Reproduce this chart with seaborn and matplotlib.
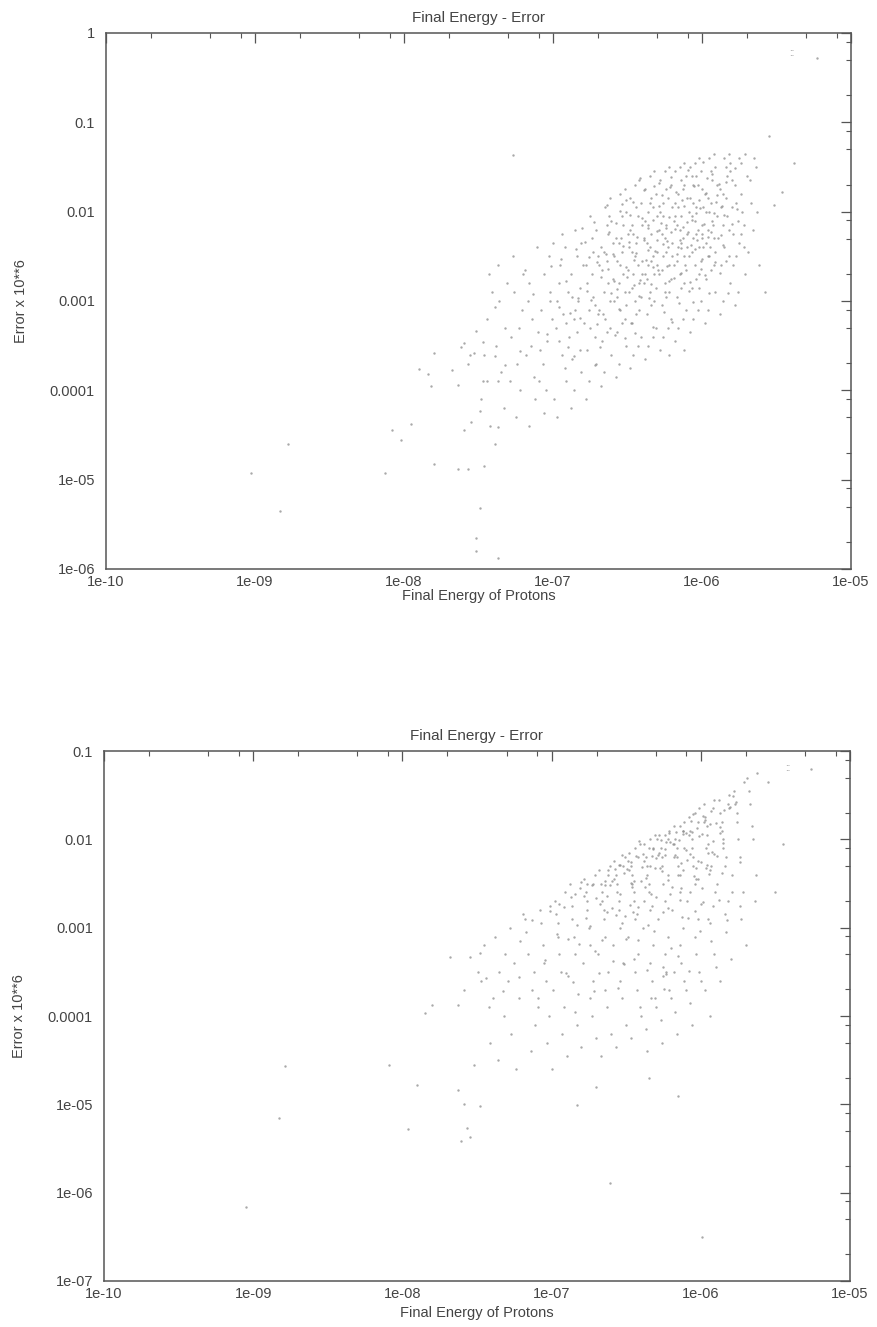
import numpy as np
import matplotlib
matplotlib.use("Agg")
import matplotlib.pyplot as plt
import seaborn as sns
from matplotlib.ticker import FixedLocator, FixedFormatter, LogLocator, NullFormatter

# ---------------- data (as log10 values) ----------------
TITLE = "Final Energy - Error"
XLABEL = "Final Energy of Protons"
YLABEL = "Error x 10**6"

x_tick_values = [1e-10, 1e-09, 1e-08, 1e-07, 1e-06, 1e-05]
x_tick_labels = ["1e-10", "1e-09", "1e-08", "1e-07", "1e-06", "1e-05"]
top_y_tick_values = [1e-06, 1e-05, 1e-04, 1e-03, 1e-02, 1e-01, 1]
top_y_tick_labels = ["1e-06", "1e-05", "0.0001", "0.001", "0.01", "0.1", "1"]
bot_y_tick_values = [1e-07, 1e-06, 1e-05, 1e-04, 1e-03, 1e-02, 1e-01]
bot_y_tick_labels = ["1e-07", "1e-06", "1e-05", "0.0001", "0.001", "0.01", "0.1"]

# top panel: (log10 energy, log10 error)
top_points = [
    (-8.78,-4.60),(-9.03,-4.93),(-8.83,-5.35),(-8.13,-4.92),(-8.08,-4.44),(-8.02,-4.56),(-7.95,-4.38),
    (-7.90,-3.76),(-7.84,-3.82),(-7.82,-3.95),(-7.80,-3.58),(-7.68,-3.77),(-7.64,-3.94),(-7.62,-3.52),
    (-7.60,-3.47),(-7.56,-3.60),(-7.53,-3.58),(-7.57,-3.70),(-7.52,-3.34),(-7.47,-3.46),(-7.39,-3.62),
    (-7.44,-3.90),(-7.37,-3.89),(-7.49,-4.23),(-7.55,-4.36),(-7.60,-4.44),(-7.37,-4.41),(-7.64,-4.88),
    (-7.57,-4.88),(-7.46,-4.85),(-7.49,-5.32),(-7.52,-5.65),(-7.80,-4.82),(-7.37,-5.88),(-7.39,-3.07),
    (-7.52,-5.80),
    (-7.47,-3.9),(-7.44,-3.2),(-7.42,-4.4),(-7.41,-2.9),(-7.46,-3.6),(-7.43,-2.7),(-7.48,-4.1),
    (-7.38,-3.5),(-7.36,-3.0),(-7.33,-4.2),(-7.31,-2.8),(-7.35,-3.8),(-7.37,-2.6),(-7.32,-3.3),(-7.39,-4.6),
    (-7.28,-3.4),(-7.26,-2.9),(-7.24,-3.7),(-7.22,-4.0),(-7.27,-2.5),(-7.21,-3.1),(-7.25,-4.3),(-7.23,-3.3),
    (-7.29,-3.9),(-7.20,-2.7),
    (-7.18,-3.6),(-7.16,-2.8),(-7.14,-3.2),(-7.12,-4.1),(-7.17,-3.0),(-7.11,-2.4),(-7.15,-3.5),(-7.13,-3.85),
    (-7.19,-2.65),(-7.10,-3.35),(-7.16,-4.4),
    (-7.08,-3.1),(-7.06,-2.7),(-7.04,-3.45),(-7.02,-2.9),(-7.07,-3.7),(-7.01,-3.2),(-7.05,-4.0),(-7.03,-2.5),
    (-7.09,-3.55),(-7.00,-2.35),(-7.06,-4.25),(-7.02,-3.0),
    (-6.98,-3.3),(-6.96,-2.8),(-6.94,-3.6),(-6.92,-2.4),(-6.97,-3.0),(-6.91,-3.9),(-6.95,-2.6),(-6.93,-3.15),
    (-6.99,-4.1),(-6.90,-2.9),(-6.96,-3.45),(-6.94,-2.25),(-6.92,-3.75),(-6.97,-4.3),(-6.91,-3.25),
    (-6.88,-2.7),(-6.86,-3.2),(-6.84,-2.5),(-6.82,-3.55),(-6.87,-2.95),(-6.81,-3.8),(-6.85,-2.2),(-6.83,-3.0),
    (-6.89,-3.4),(-6.80,-2.6),(-6.86,-4.0),(-6.84,-3.35),(-6.82,-2.85),(-6.87,-3.65),(-6.81,-2.35),(-6.88,-4.2),
    (-6.85,-3.1),
    (-6.78,-2.6),(-6.76,-3.1),(-6.74,-2.3),(-6.72,-3.4),(-6.77,-2.8),(-6.71,-3.7),(-6.75,-2.05),(-6.73,-2.95),
    (-6.79,-3.25),(-6.70,-2.5),(-6.76,-3.9),(-6.74,-2.7),(-6.72,-3.05),(-6.77,-3.55),(-6.71,-2.2),(-6.78,-4.1),
    (-6.75,-3.3),(-6.73,-2.45),(-6.70,-3.15),
    (-6.68,-2.4),(-6.66,-2.9),(-6.64,-2.15),(-6.62,-3.3),(-6.67,-2.65),(-6.61,-3.6),(-6.65,-1.95),(-6.63,-2.8),
    (-6.69,-3.1),(-6.60,-2.35),(-6.66,-3.8),(-6.64,-2.55),(-6.62,-3.0),(-6.67,-3.45),(-6.61,-2.1),(-6.68,-3.95),
    (-6.65,-3.2),(-6.63,-2.25),(-6.60,-2.75),(-6.66,-2.45),(-6.64,-3.35),(-6.62,-1.85),(-6.69,-2.6),
    (-6.58,-2.3),(-6.56,-2.8),(-6.54,-2.05),(-6.52,-3.2),(-6.57,-2.55),(-6.51,-3.5),(-6.55,-1.8),(-6.53,-2.7),
    (-6.59,-3.0),(-6.50,-2.25),(-6.56,-3.7),(-6.54,-2.45),(-6.52,-2.9),(-6.57,-3.35),(-6.51,-2.0),(-6.58,-3.85),
    (-6.55,-3.1),(-6.53,-2.15),(-6.50,-2.65),(-6.56,-2.35),(-6.54,-3.25),(-6.52,-1.75),(-6.59,-2.5),(-6.57,-2.95),
    (-6.51,-3.05),(-6.55,-2.6),
    (-6.48,-2.2),(-6.46,-2.7),(-6.44,-1.95),(-6.42,-3.1),(-6.47,-2.45),(-6.41,-3.4),(-6.45,-1.7),(-6.43,-2.6),
    (-6.49,-2.9),(-6.40,-2.15),(-6.46,-3.6),(-6.44,-2.35),(-6.42,-2.8),(-6.47,-3.25),(-6.41,-1.9),(-6.48,-3.75),
    (-6.45,-3.0),(-6.43,-2.05),(-6.40,-2.55),(-6.46,-2.25),(-6.44,-3.15),(-6.42,-1.65),(-6.49,-2.4),(-6.47,-2.85),
    (-6.41,-2.95),(-6.45,-2.5),(-6.43,-3.5),(-6.48,-1.85),(-6.40,-2.7),
    (-6.38,-2.1),(-6.36,-2.6),(-6.34,-1.85),(-6.32,-3.0),(-6.37,-2.35),(-6.31,-3.3),(-6.35,-1.6),(-6.33,-2.5),
    (-6.39,-2.8),(-6.30,-2.05),(-6.36,-3.5),(-6.34,-2.25),(-6.32,-2.7),(-6.37,-3.15),(-6.31,-1.8),(-6.38,-3.65),
    (-6.35,-2.9),(-6.33,-1.95),(-6.30,-2.45),(-6.36,-2.15),(-6.34,-3.05),(-6.32,-1.55),(-6.39,-2.3),(-6.37,-2.75),
    (-6.31,-2.85),(-6.35,-2.4),(-6.33,-3.4),(-6.38,-1.75),(-6.30,-2.6),(-6.36,-2.0),(-6.34,-2.55),
    (-6.28,-2.0),(-6.26,-2.5),(-6.24,-1.75),(-6.22,-2.9),(-6.27,-2.25),(-6.21,-3.2),(-6.25,-1.55),(-6.23,-2.4),
    (-6.29,-2.7),(-6.20,-1.95),(-6.26,-3.4),(-6.24,-2.15),(-6.22,-2.6),(-6.27,-3.05),(-6.21,-1.7),(-6.28,-3.55),
    (-6.25,-2.8),(-6.23,-1.85),(-6.20,-2.35),(-6.26,-2.05),(-6.24,-2.95),(-6.22,-1.5),(-6.29,-2.2),(-6.27,-2.65),
    (-6.21,-2.75),(-6.25,-2.3),(-6.23,-3.3),(-6.28,-1.65),(-6.20,-2.5),(-6.26,-1.9),(-6.24,-2.45),(-6.22,-3.6),
    (-6.18,-1.9),(-6.16,-2.4),(-6.14,-1.65),(-6.12,-2.8),(-6.17,-2.15),(-6.11,-3.1),(-6.15,-1.5),(-6.13,-2.3),
    (-6.19,-2.6),(-6.10,-1.85),(-6.16,-3.3),(-6.14,-2.05),(-6.12,-2.5),(-6.17,-2.95),(-6.11,-1.6),(-6.18,-3.45),
    (-6.15,-2.7),(-6.13,-1.75),(-6.10,-2.25),(-6.16,-1.95),(-6.14,-2.85),(-6.12,-1.45),(-6.19,-2.1),(-6.17,-2.55),
    (-6.11,-2.65),(-6.15,-2.2),(-6.13,-3.2),(-6.18,-1.55),(-6.10,-2.4),(-6.16,-1.8),(-6.14,-2.35),(-6.12,-3.55),
    (-6.08,-1.85),(-6.06,-2.3),(-6.04,-1.6),(-6.02,-2.7),(-6.07,-2.05),(-6.01,-3.0),(-6.05,-1.45),(-6.03,-2.2),
    (-6.09,-2.5),(-6.00,-1.75),(-6.06,-3.2),(-6.04,-1.95),(-6.02,-2.4),(-6.07,-2.85),(-6.01,-1.55),(-6.08,-3.35),
    (-6.05,-2.6),(-6.03,-1.7),(-6.00,-2.15),(-6.06,-1.9),(-6.04,-2.75),(-6.02,-1.4),(-6.09,-2.0),(-6.07,-2.45),
    (-6.01,-2.55),(-6.05,-2.1),(-6.03,-3.1),(-6.08,-1.5),(-6.00,-2.3),(-6.06,-1.7),(-6.04,-2.25),
    (-5.98,-1.8),(-5.96,-2.2),(-5.94,-1.55),(-5.92,-2.6),(-5.97,-2.0),(-5.91,-2.9),(-5.95,-1.4),(-5.93,-2.1),
    (-5.99,-2.4),(-5.90,-1.7),(-5.96,-3.1),(-5.94,-1.9),(-5.92,-2.3),(-5.97,-2.75),(-5.91,-1.5),(-5.98,-3.25),
    (-5.95,-2.5),(-5.93,-1.65),(-5.90,-2.05),(-5.96,-1.85),(-5.94,-2.65),(-5.92,-1.35),(-5.99,-1.95),(-5.97,-2.35),
    (-5.91,-2.45),(-5.95,-2.0),
    (-5.88,-1.75),(-5.86,-2.15),(-5.84,-1.5),(-5.82,-2.5),(-5.87,-1.95),(-5.81,-2.8),(-5.85,-1.4),(-5.83,-2.05),
    (-5.89,-2.3),(-5.80,-1.65),(-5.86,-3.0),(-5.84,-1.85),(-5.82,-2.2),(-5.87,-2.6),(-5.81,-1.45),(-5.88,-3.15),
    (-5.85,-2.4),(-5.83,-1.6),(-5.80,-1.95),(-5.86,-1.8),(-5.84,-2.55),(-5.82,-1.35),
    (-5.78,-1.7),(-5.76,-2.1),(-5.74,-1.45),(-5.72,-2.4),(-5.77,-1.9),(-5.71,-2.7),(-5.75,-1.4),(-5.73,-2.0),
    (-5.79,-2.25),(-5.70,-1.6),(-5.76,-2.9),(-5.74,-1.8),(-5.72,-2.15),(-5.77,-2.5),(-5.71,-1.35),(-5.78,-3.05),
    (-5.75,-2.35),
    (-5.68,-1.65),(-5.66,-2.2),(-5.64,-1.5),(-5.62,-2.6),(-5.67,-1.9),(-5.69,-2.45),(-5.65,-1.4),(-5.63,-2.0),
    (-5.52,-1.93),(-5.46,-1.78),(-5.38,-1.46),(-5.23,-0.28),(-5.58,-2.9),(-5.55,-1.15),(-7.27,-1.37),
]

# top panel, dense core
top_core_points = [
    (-6.437,-2.283),(-6.512,-2.617),(-6.291,-1.934),(-6.168,-2.471),(-6.053,-1.712),(-5.987,-2.139),
    (-6.342,-2.806),(-6.219,-2.057),(-6.611,-2.913),(-6.074,-2.368),(-5.931,-1.583),(-6.389,-1.762),
    (-6.256,-3.118),(-6.133,-1.867),(-6.477,-3.244),(-6.018,-2.851),(-5.873,-2.262),(-6.702,-2.562),
    (-6.551,-1.996),(-6.314,-2.443),(-6.191,-2.738),(-6.097,-1.529),(-5.962,-2.497),(-6.423,-2.941),
    (-6.287,-1.681),(-6.154,-3.017),(-6.038,-2.014),(-5.907,-1.892),(-6.586,-3.382),(-6.361,-2.178),
    (-6.232,-2.329),(-6.112,-2.593),(-5.995,-1.441),(-6.466,-1.893),(-6.332,-3.291),(-6.208,-1.615),
    (-6.081,-2.792),(-5.952,-2.906),(-6.744,-2.984),(-6.627,-2.224),(-6.501,-2.728),(-6.376,-2.536),
    (-6.249,-2.894),(-6.126,-2.177),(-6.007,-2.642),(-5.889,-1.693),(-6.683,-3.516),(-6.556,-3.086),
    (-6.414,-1.624),(-6.297,-2.652),(-6.174,-1.782),(-6.059,-3.012),(-5.938,-2.227),(-6.819,-3.187),
    (-6.642,-2.473),(-6.528,-2.381),(-6.403,-2.067),(-6.272,-2.126),(-6.147,-2.313),(-6.023,-1.867),
    (-5.914,-2.563),(-6.782,-2.338),(-6.665,-3.143),(-6.539,-1.919),(-6.450,-3.355),(-6.321,-1.712),
    (-6.198,-3.231),(-6.070,-2.098),(-5.967,-1.627),(-5.852,-2.041),(-6.914,-2.771),(-6.859,-3.612),
    (-6.728,-2.112),(-6.593,-2.781),(-6.486,-2.041),(-6.357,-2.969),(-6.238,-2.606),(-6.119,-1.702),
    (-6.002,-2.532),(-5.879,-2.689),(-5.801,-2.137),(-6.963,-3.071),(-6.846,-2.419),(-6.707,-3.262),
    (-6.574,-2.132),(-6.458,-2.542),(-6.327,-2.094),(-6.205,-2.229),(-6.089,-2.887),(-5.974,-1.786),
    (-5.842,-1.667),(-5.763,-1.973),(-7.042,-3.367),(-6.887,-3.132),(-6.771,-2.891),(-6.639,-1.921),
    (-6.518,-3.412),(-6.392,-2.312),(-6.266,-1.812),(-6.141,-2.682),(-6.031,-2.322),(-5.919,-2.014),
    (-5.827,-2.914),(-7.131,-2.918),(-6.948,-2.531),(-6.803,-2.182),(-6.675,-2.734),(-6.543,-2.294),
    (-6.418,-2.765),(-6.301,-2.211),(-6.183,-2.052),(-6.065,-1.596),(-5.944,-2.393),(-5.812,-1.543),
    (-5.737,-2.253),(-7.221,-3.562),(-7.014,-2.612),(-6.832,-2.967),(-6.718,-3.713),(-6.597,-2.469),
    (-6.471,-2.153),(-6.348,-1.903),(-6.223,-2.777),(-6.101,-2.121),(-5.983,-2.713),(-5.861,-2.376),
    (-5.781,-1.512),(-7.324,-3.712),(-7.093,-3.893),(-6.902,-3.517),(-6.761,-2.508),(-6.621,-2.047),
    (-6.507,-1.871),(-6.381,-2.694),(-6.262,-2.362),(-6.138,-2.408),(-6.014,-1.963),(-5.896,-1.817),
    (-5.791,-2.593),(-6.455,-2.817),(-6.331,-2.619),(-6.212,-1.723),(-6.093,-2.232),(-5.958,-2.286),
    (-6.568,-2.861),(-6.445,-2.468),(-6.304,-2.322),(-6.179,-2.197),(-6.048,-2.419),(-5.923,-2.147),
    (-6.631,-2.643),(-6.492,-2.338),(-6.365,-2.433),(-6.241,-2.182),(-6.121,-1.936),(-5.999,-2.254),
    (-5.868,-1.932),
]

# bottom panel: (log10 energy, log10 error)
bottom_points = [
    (-9.05,-6.16),(-8.83,-5.16),(-8.79,-4.57),(-8.09,-4.55),(-7.90,-4.78),(-7.96,-5.28),(-7.85,-3.97),
    (-7.80,-3.87),(-7.68,-3.33),(-7.63,-4.84),(-7.59,-5.00),(-7.48,-5.02),(-7.57,-5.27),(-7.61,-5.42),
    (-7.55,-5.37),(-7.52,-4.56),(-7.59,-3.71),(-7.49,-3.50),(-7.44,-3.57),(-7.55,-3.33),(-7.48,-3.29),
    (-7.63,-3.88),
    (-7.45,-3.2),(-7.42,-3.9),(-7.41,-4.3),(-7.47,-3.6),
    (-7.38,-3.1),(-7.35,-3.5),(-7.32,-4.0),(-7.36,-4.5),(-7.31,-3.3),(-7.39,-3.8),
    (-7.28,-3.0),(-7.25,-3.4),(-7.22,-3.8),(-7.27,-4.2),(-7.21,-3.15),(-7.24,-4.6),(-7.29,-3.6),
    (-7.18,-2.9),(-7.16,-3.3),(-7.13,-3.7),(-7.11,-4.1),(-7.17,-3.05),(-7.14,-4.4),(-7.12,-3.5),(-7.19,-2.85),
    (-7.08,-2.8),(-7.06,-3.2),(-7.04,-3.6),(-7.02,-4.0),(-7.07,-2.95),(-7.03,-4.3),(-7.05,-3.4),(-7.01,-2.75),
    (-7.09,-3.8),(-7.00,-4.6),
    (-6.98,-2.7),(-6.96,-3.1),(-6.94,-3.5),(-6.92,-3.9),(-6.97,-2.85),(-6.93,-4.2),(-6.95,-3.3),(-6.91,-2.6),
    (-6.99,-3.7),(-6.90,-4.45),(-6.96,-2.95),
    (-6.88,-2.5),(-6.86,-2.9),(-6.84,-3.3),(-6.82,-3.75),(-6.87,-2.65),(-6.83,-4.1),(-6.85,-3.1),(-6.81,-2.55),
    (-6.89,-3.55),(-6.80,-4.35),(-6.86,-2.75),(-6.84,-3.95),
    (-6.78,-2.45),(-6.76,-2.8),(-6.74,-3.2),(-6.72,-3.6),(-6.77,-2.6),(-6.73,-4.0),(-6.75,-3.0),(-6.71,-2.4),
    (-6.79,-3.4),(-6.70,-4.25),(-6.76,-2.7),(-6.74,-3.8),(-6.72,-2.5),
    (-6.68,-2.35),(-6.66,-2.7),(-6.64,-3.1),(-6.62,-3.5),(-6.67,-2.5),(-6.63,-3.9),(-6.65,-2.9),(-6.61,-2.3),
    (-6.69,-3.3),(-6.60,-4.2),(-6.66,-2.6),(-6.64,-3.7),(-6.62,-2.4),(-6.67,-4.45),(-6.65,-2.8),
    (-6.58,-2.25),(-6.56,-2.6),(-6.54,-3.0),(-6.52,-3.4),(-6.57,-2.4),(-6.53,-3.8),(-6.55,-2.8),(-6.51,-2.2),
    (-6.59,-3.2),(-6.50,-4.1),(-6.56,-2.5),(-6.54,-3.6),(-6.52,-2.3),(-6.57,-4.35),(-6.55,-2.7),(-6.53,-2.95),
    (-6.58,-2.45),
    (-6.48,-2.15),(-6.46,-2.5),(-6.44,-2.9),(-6.42,-3.3),(-6.47,-2.3),(-6.43,-3.7),(-6.45,-2.7),(-6.41,-2.05),
    (-6.49,-3.1),(-6.40,-4.0),(-6.46,-2.4),(-6.44,-3.5),(-6.42,-2.2),(-6.47,-4.25),(-6.45,-2.6),(-6.43,-2.85),
    (-6.48,-2.35),(-6.41,-3.9),(-6.44,-2.1),
    (-6.38,-2.05),(-6.36,-2.4),(-6.34,-2.8),(-6.32,-3.2),(-6.37,-2.2),(-6.33,-3.6),(-6.35,-2.6),(-6.31,-1.95),
    (-6.39,-3.0),(-6.30,-3.9),(-6.36,-2.3),(-6.34,-3.4),(-6.32,-2.1),(-6.37,-4.15),(-6.35,-2.5),(-6.33,-2.75),
    (-6.38,-2.25),(-6.31,-3.8),(-6.34,-2.0),(-6.36,-4.4),
    (-6.28,-1.95),(-6.26,-2.3),(-6.24,-2.7),(-6.22,-3.1),(-6.27,-2.1),(-6.23,-3.5),(-6.25,-2.5),(-6.21,-1.9),
    (-6.29,-2.9),(-6.20,-3.8),(-6.26,-2.2),(-6.24,-3.3),(-6.22,-2.0),(-6.27,-4.05),(-6.25,-3.45),(-6.23,-3.52),
    (-6.28,-2.15),(-6.21,-3.7),(-6.24,-1.95),(-6.26,-4.3),(-6.22,-2.4),(-6.25,-3.55),
    (-6.18,-1.85),(-6.16,-2.2),(-6.14,-2.6),(-6.12,-3.0),(-6.17,-2.0),(-6.13,-3.4),(-6.15,-2.4),(-6.11,-1.8),
    (-6.19,-2.8),(-6.10,-3.7),(-6.16,-2.1),(-6.14,-3.2),(-6.12,-1.9),(-6.17,-3.95),(-6.15,-2.3),(-6.13,-2.55),
    (-6.18,-2.05),(-6.11,-3.6),(-6.14,-1.85),(-6.16,-4.2),(-6.12,-2.35),(-6.18,-3.5),
    (-6.08,-1.75),(-6.06,-2.1),(-6.04,-2.5),(-6.02,-2.9),(-6.07,-1.9),(-6.03,-3.3),(-6.05,-2.3),(-6.01,-1.65),
    (-6.09,-2.7),(-6.00,-3.6),(-6.06,-2.0),(-6.04,-3.1),(-6.02,-1.8),(-6.07,-3.85),(-6.05,-2.2),(-6.03,-2.45),
    (-6.08,-1.95),(-6.01,-3.5),(-6.04,-1.7),(-6.06,-4.1),(-6.02,-2.25),
    (-5.98,-1.6),(-5.96,-1.95),(-5.94,-2.35),(-5.92,-2.75),(-5.97,-1.75),(-5.93,-3.15),(-5.95,-2.15),(-5.91,-1.55),
    (-5.99,-2.55),(-5.90,-3.45),(-5.96,-1.85),(-5.94,-2.95),(-5.92,-1.65),(-5.97,-3.7),(-5.95,-2.05),(-5.93,-2.3),
    (-5.98,-1.8),(-5.91,-3.3),(-5.94,-4.0),
    (-5.88,-1.55),(-5.86,-1.9),(-5.84,-2.3),(-5.82,-2.7),(-5.87,-1.7),(-5.83,-3.05),(-5.85,-2.1),(-5.81,-1.5),
    (-5.89,-2.5),(-5.80,-3.35),(-5.86,-1.8),(-5.84,-2.85),(-5.82,-1.6),(-5.87,-3.6),(-5.85,-2.0),(-5.83,-2.2),
    (-5.78,-1.45),(-5.76,-1.8),(-5.74,-2.2),(-5.72,-2.6),(-5.77,-1.6),(-5.73,-2.9),(-5.75,-2.0),(-5.71,-1.35),
    (-5.79,-2.4),(-5.70,-3.2),(-5.76,-1.7),(-5.74,-2.75),
    (-5.69,-1.3),(-5.67,-1.6),(-5.65,-2.0),(-5.63,-2.4),(-5.68,-1.45),(-5.64,-2.7),(-5.66,-1.85),(-5.62,-1.25),
    (-5.26,-1.20),(-5.45,-2.05),(-5.50,-2.60),(-5.55,-1.35),(-5.99,-6.50),(-6.61,-5.89),(-6.83,-5.01),
    (-6.70,-4.80),(-6.35,-4.70),(-6.15,-4.90),
]

# bottom panel, dense band under the upper edge
bottom_core_points = [
    (-6.437,-2.193),(-6.512,-2.383),(-6.291,-1.994),(-6.168,-1.917),(-6.053,-1.712),(-5.987,-1.737),
    (-6.342,-2.306),(-6.219,-2.457),(-6.611,-2.513),(-6.074,-2.168),(-5.931,-1.683),(-6.389,-2.162),
    (-6.256,-2.818),(-6.133,-2.267),(-6.477,-2.744),(-6.018,-2.451),(-5.873,-1.862),(-6.702,-2.662),
    (-6.551,-2.296),(-6.314,-3.043),(-6.191,-2.538),(-6.097,-1.929),(-5.962,-2.097),(-6.423,-3.141),
    (-6.287,-2.181),(-6.154,-3.317),(-6.038,-2.814),(-5.907,-2.592),(-6.586,-3.382),(-6.361,-3.478),
    (-6.232,-2.029),(-6.112,-2.093),(-5.995,-1.941),(-6.466,-2.493),(-6.332,-3.791),(-6.208,-2.615),
    (-6.081,-3.492),(-5.952,-2.906),(-6.744,-2.984),(-6.627,-2.824),(-6.501,-3.128),(-6.376,-2.536),
    (-6.249,-3.694),(-6.126,-2.877),(-6.007,-3.042),(-5.889,-2.193),(-6.683,-3.516),(-6.556,-3.686),
    (-6.414,-2.024),(-6.297,-2.652),(-6.174,-2.182),(-6.059,-1.912),(-5.938,-1.827),(-6.819,-3.187),
    (-6.642,-2.473),(-6.528,-2.181),(-6.403,-2.467),(-6.272,-2.326),(-6.147,-2.013),(-6.023,-1.867),
    (-5.914,-2.163),(-6.782,-2.638),(-6.665,-3.143),(-6.539,-2.619),(-6.450,-3.355),(-6.321,-2.112),
    (-6.198,-3.231),(-6.070,-2.598),(-5.967,-2.327),(-5.852,-2.041),(-6.914,-2.771),(-6.859,-3.612),
    (-6.728,-2.512),(-6.593,-2.781),(-6.486,-2.241),(-6.357,-2.969),(-6.238,-2.106),(-6.119,-1.902),
    (-6.002,-2.732),(-5.879,-2.689),(-5.801,-1.637),(-6.963,-3.071),(-6.846,-2.619),(-6.707,-3.262),
    (-6.574,-2.332),(-6.458,-2.542),(-6.327,-2.194),(-6.205,-2.029),(-6.089,-2.887),(-5.974,-1.786),
    (-5.842,-1.667),(-5.763,-1.573),(-7.042,-3.367),(-6.887,-3.132),(-6.771,-2.891),(-6.639,-2.521),
    (-6.518,-3.412),(-6.392,-2.312),(-6.266,-2.012),(-6.141,-2.682),(-6.031,-2.322),(-5.919,-2.014),
    (-5.827,-2.914),(-7.131,-2.918),(-6.948,-2.731),(-6.803,-2.482),(-6.675,-2.734),(-6.543,-2.294),
    (-6.418,-2.765),(-6.301,-2.211),(-6.183,-2.052),(-6.065,-1.796),(-5.944,-2.393),(-5.812,-1.643),
    (-5.737,-2.253),(-7.221,-3.562),(-7.014,-2.812),(-6.832,-2.967),(-6.718,-3.713),(-6.597,-2.469),
    (-6.471,-2.253),(-6.348,-2.103),(-6.223,-2.777),(-6.101,-2.121),(-5.983,-2.713),(-5.861,-2.376),
    (-5.781,-1.512),(-7.324,-3.712),(-7.093,-3.893),(-6.902,-3.517),(-6.761,-2.508),(-6.621,-2.347),
    (-6.507,-2.871),(-6.381,-2.694),(-6.262,-2.362),(-6.138,-2.408),(-6.014,-1.963),(-5.896,-1.817),
    (-5.791,-2.593),(-6.455,-2.817),(-6.331,-2.619),(-6.212,-1.923),(-6.093,-2.232),(-5.958,-2.286),
    (-6.568,-2.861),(-6.445,-2.468),(-6.304,-2.322),(-6.179,-2.197),(-6.048,-2.419),(-5.923,-2.147),
    (-6.631,-2.643),(-6.492,-2.338),(-6.365,-2.433),(-6.241,-2.182),(-6.121,-1.936),(-5.999,-2.254),
    (-5.868,-1.932),
]

top_all = top_points + top_core_points
bot_all = bottom_points + bottom_core_points
top_log_energy = np.array([p[0] for p in top_all])
top_log_error = np.array([p[1] for p in top_all])
bot_log_energy = np.array([p[0] for p in bot_all])
bot_log_error = np.array([p[1] for p in bot_all])

# ---------------- style ----------------
sns.set_theme(style="white")
plt.rcParams["font.family"] = ["Liberation Sans", "DejaVu Sans"]
TEXT = "#444444"
AXC = "#555555"
DOT = "#8c8c8c"
FS = 10.5

fig = plt.figure(figsize=(8.78, 13.27), dpi=100)
ax_top = fig.add_axes([106/878, 1-569/1327, 745/878, 536/1327])
ax_bot = fig.add_axes([104/878, 1-1281/1327, 746/878, 530/1327])

def style_axis(ax, ylim, yvals, ylabels, keypos, xlabelpad):
    ax.set_xscale("log")
    ax.set_yscale("log")
    ax.set_xlim(1e-10, 1e-05)
    ax.set_ylim(*ylim)
    ax.xaxis.set_major_locator(FixedLocator(x_tick_values))
    ax.xaxis.set_major_formatter(FixedFormatter(x_tick_labels))
    ax.yaxis.set_major_locator(FixedLocator(yvals))
    ax.yaxis.set_major_formatter(FixedFormatter(ylabels))
    ax.xaxis.set_minor_locator(LogLocator(base=10, subs=[2, 5, 8]))
    ax.yaxis.set_minor_locator(LogLocator(base=10, subs=[2, 5, 8]))
    ax.xaxis.set_minor_formatter(NullFormatter())
    ax.yaxis.set_minor_formatter(NullFormatter())
    ax.tick_params(which="both", direction="in", top=True, right=True,
                   color=AXC, labelcolor=TEXT, labelsize=FS)
    ax.tick_params(which="major", length=7, width=0.9)
    ax.tick_params(which="minor", length=3.5, width=0.8)
    ax.tick_params(axis="x", which="major", pad=4)
    ax.tick_params(axis="y", which="major", pad=8)
    for sp in ax.spines.values():
        sp.set_visible(True)
        sp.set_color(AXC)
        sp.set_linewidth(1.1)
    ax.set_title(TITLE, fontsize=FS + 0.5, color=TEXT, pad=8)
    ax.set_xlabel(XLABEL, fontsize=FS, color=TEXT, labelpad=xlabelpad)
    ax.set_ylabel(YLABEL, fontsize=FS, color=TEXT, labelpad=16)
    ax.text(keypos[0], keypos[1], "::", transform=ax.transAxes, fontsize=7,
            color="#8a8a8a", ha="center", va="center")
    ax.grid(False)

sns.scatterplot(x=10.0**top_log_energy, y=10.0**top_log_error, ax=ax_top,
                s=3, color=DOT, linewidth=0, alpha=0.75, legend=False)
sns.scatterplot(x=10.0**bot_log_energy, y=10.0**bot_log_error, ax=ax_bot,
                s=3, color=DOT, linewidth=0, alpha=0.75, legend=False)

style_axis(ax_top, (1e-06, 1), top_y_tick_values, top_y_tick_labels, (0.921, 0.963), 0)
style_axis(ax_bot, (1e-07, 1e-01), bot_y_tick_values, bot_y_tick_labels, (0.916, 0.968), 4)

fig.savefig("out.png", dpi=100)
